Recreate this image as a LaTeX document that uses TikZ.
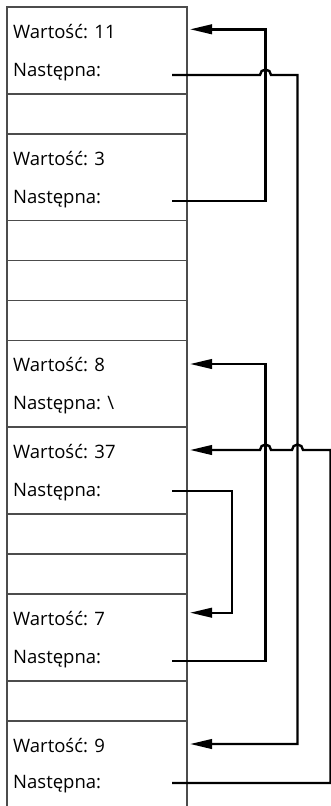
\documentclass[tikz,border=0pt]{standalone}
\usepackage{fontspec}
\setmainfont{Open Sans}
\usetikzlibrary{arrows.meta}
\definecolor{boxgray}{gray}{0.3}
\begin{document}
\begin{tikzpicture}[x=1pt,y=-1pt,
  cell/.style={draw=boxgray, line width=1.4pt, minimum width=180pt, inner sep=0pt,
               anchor=north west, outer sep=0pt},
  lbl/.style={anchor=base west, inner sep=0pt, font=\fontsize{18.5}{22}\selectfont},
  link/.style={line width=2.4pt, line join=miter},
  ptr/.style={link, -{Triangle[length=22pt,width=9.5pt]}},
  hopr/.style={radius=5.5pt}]
\useasboundingbox (0,0) rectangle (331,806);
\clip (0,0) rectangle (331,806);

% memory cells, top to bottom
\node[cell, minimum height=87pt]   (c1)  at (7,7)     {};
\node[cell, minimum height=40pt]   (c2)  at (7,94)    {};
\node[cell, minimum height=86.5pt] (c3)  at (7,134)   {};
\node[cell, minimum height=40pt]   (c4)  at (7,220.5) {};
\node[cell, minimum height=40pt]   (c5)  at (7,260.5) {};
\node[cell, minimum height=40pt]   (c6)  at (7,300.5) {};
\node[cell, minimum height=86.5pt] (c7)  at (7,340.5) {};
\node[cell, minimum height=87pt]   (c8)  at (7,427)   {};
\node[cell, minimum height=40pt]   (c9)  at (7,514)   {};
\node[cell, minimum height=40pt]   (c10) at (7,554)   {};
\node[cell, minimum height=87pt]   (c11) at (7,594)   {};
\node[cell, minimum height=40pt]   (c12) at (7,681)   {};
\node[cell, minimum height=87pt]   (c13) at (7,721)   {};

% record fields
\node[lbl] (w11) at (13,38)    {Wartość: 11};
\node[lbl] (n11) at (13,76)    {Następna:};
\node[lbl] (w3)  at (13,165)   {Wartość: 3};
\node[lbl] (n3)  at (13,203)   {Następna:};
\node[lbl] (w8)  at (13,371.5) {Wartość: 8};
\node[lbl] (n8)  at (13,409.5) {Następna: \textbackslash};
\node[lbl] (w37) at (13,458)   {Wartość: 37};
\node[lbl] (n37) at (13,496)   {Następna:};
\node[lbl] (w7)  at (13,625)   {Wartość: 7};
\node[lbl] (n7)  at (13,663)   {Następna:};
\node[lbl] (w9)  at (13,752)   {Wartość: 9};
\node[lbl] (n9)  at (13,788.5) {Następna:};

% pointer ports: outgoing from "Następna", incoming at "Wartość"
\coordinate (o11) at (172,75);
\coordinate (o3)  at (172,200.7);
\coordinate (o37) at (172,491);
\coordinate (o7)  at (172,660.7);
\coordinate (o9)  at (172,783);
\coordinate (i11) at (190,29.3);
\coordinate (i8)  at (190,364);
\coordinate (i37) at (190,450);
\coordinate (i7)  at (190,612.7);
\coordinate (i9)  at (190,744);

% 3 -> 11
\draw[ptr] (o3) -- (265.5,200.7) |- (i11);
% 7 -> 8
\draw[ptr] (o7) -- (265.5,660.7) |- (i8);
% 37 -> 7
\draw[ptr] (o37) -- (232,491) |- (i7);
% 11 -> 9, hopping over the 3 -> 11 line
\draw[ptr] (o11) -- (260,75) arc[start angle=180, end angle=0, hopr]
  -- (297.5,75) |- (i9);
% 9 -> 37, hopping over both vertical runs
\draw[ptr] (o9) -- (330.5,783) -- (330.5,450) -- (303,450)
  arc[start angle=0, end angle=180, hopr] -- (271,450)
  arc[start angle=0, end angle=180, hopr] -- (i37);
\end{tikzpicture}
\end{document}
